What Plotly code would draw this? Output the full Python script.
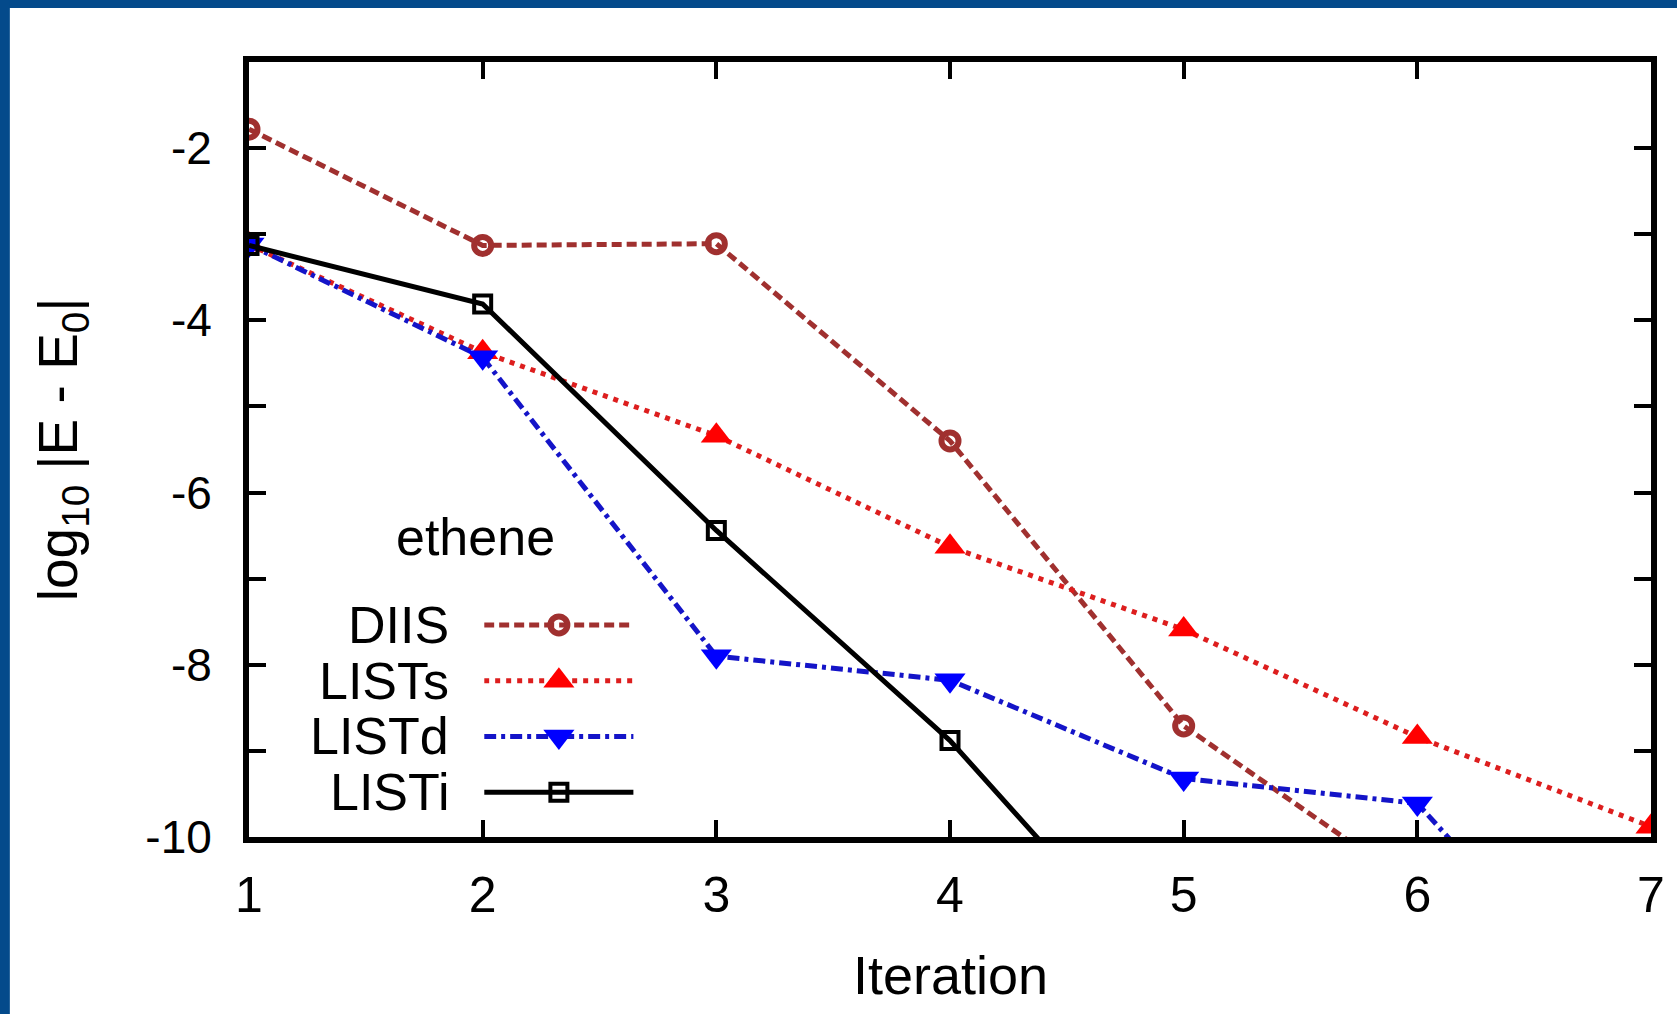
import plotly.graph_objects as go

# ---- data ----
iterations = [1, 2, 3, 4, 5, 6, 7]
diis = [-1.78, -3.13, -3.11, -5.40, -8.71, -10.6]
lists = [-3.12, -4.37, -5.34, -6.63, -7.59, -8.84, -9.88]
listd = [-3.12, -4.43, -7.90, -8.18, -9.32, -9.61, -12.6]
listi = [-3.13, -3.81, -6.44, -8.88, -11.9]

series_names = ["DIIS", "LISTs", "LISTd", "LISTi"]
legend_title = "ethene"
x_ticks = [1, 2, 3, 4, 5, 6, 7]
y_ticks = [-10, -8, -6, -4, -2]

# ---- styles ----
FONT = "Liberation Sans, Arial, Helvetica, sans-serif"
styles = {
    "DIIS": dict(line=dict(color="#A0302F", width=5, dash="10px,5px"),
                 marker=dict(symbol="circle-open", size=17, color="#A0302F",
                             line=dict(color="#A0302F", width=6))),
    "LISTs": dict(line=dict(color="#DD1E1E", width=5, dash="5px,6px"),
                  marker=dict(symbol="triangle-up", size=27, color="#FF0000",
                              line=dict(width=0))),
    "LISTd": dict(line=dict(color="#1414C8", width=5, dash="12px,5px,4px,5px"),
                  marker=dict(symbol="triangle-down", size=27, color="#0000FF",
                              line=dict(width=0))),
    "LISTi": dict(line=dict(color="black", width=5),
                  marker=dict(symbol="square-open", size=17, color="black",
                              line=dict(color="black", width=4))),
}
values = {"DIIS": diis, "LISTs": lists, "LISTd": listd, "LISTi": listi}

fig = go.Figure()
for name in series_names:
    ys = values[name]
    fig.add_trace(go.Scatter(
        x=iterations[:len(ys)], y=ys, mode="lines+markers", name=name,
        showlegend=False, line=styles[name]["line"], marker=styles[name]["marker"],
        xaxis="x", yaxis="y"))

# ---- custom gnuplot-style key (label left of sample) on an overlay axis ----
for i, name in enumerate(series_names):
    fig.add_trace(go.Scatter(
        x=[0, 1], y=[i, i], mode="lines", showlegend=False,
        line=styles[name]["line"], xaxis="x2", yaxis="y2", hoverinfo="skip"))
    fig.add_trace(go.Scatter(
        x=[0.5], y=[i], mode="markers", showlegend=False,
        marker=styles[name]["marker"], xaxis="x2", yaxis="y2", hoverinfo="skip"))
    fig.add_annotation(x=0, y=i, xref="x2", yref="y2", text=name, showarrow=False,
                       xanchor="right", yanchor="middle", xshift=-33,
                       font=dict(family=FONT, size=52, color="black"))

fig.add_annotation(x=0.1613, y=0.387, xref="paper", yref="paper", text=legend_title,
                   showarrow=False, xanchor="center", yanchor="middle",
                   font=dict(family=FONT, size=52, color="black"))

# axis titles
fig.add_annotation(x=0.5, y=-0.178, xref="paper", yref="paper", text="Iteration",
                   showarrow=False, xanchor="center", yanchor="middle",
                   font=dict(family=FONT, size=54, color="black"))
fig.add_annotation(x=-0.1336, y=0.5, xref="paper", yref="paper",
                   text="log<sub>10</sub> |E - E<sub>0</sub>|", textangle=-90,
                   showarrow=False, xanchor="center", yanchor="middle",
                   font=dict(family=FONT, size=55, color="black"))

# blue slide border strips (top and left)
BLUE = "#044A8B"
fig.add_shape(type="rect", xref="paper", yref="paper", x0=-0.2, x1=1.1,
              y0=(837 - 8) / 775, y1=1.2, fillcolor=BLUE, line_width=0, layer="below")
fig.add_shape(type="rect", xref="paper", yref="paper", x0=-0.2, x1=(9 - 249) / 1407,
              y0=-0.3, y1=1.2, fillcolor=BLUE, line_width=0, layer="below")

axis_common = dict(showline=True, linecolor="black", linewidth=6, mirror="allticks",
                   ticks="inside", tickcolor="black", tickwidth=4, ticklen=17,
                   showgrid=False, zeroline=False)

fig.update_layout(
    width=1677, height=1014,
    margin=dict(l=249, r=21, t=62, b=177, pad=0),
    paper_bgcolor="white", plot_bgcolor="white",
    xaxis=dict(range=[1, 7], tickvals=x_ticks, ticktext=[str(v) for v in x_ticks],
               ticklabelstandoff=9, tickfont=dict(family=FONT, size=50, color="black"),
               **axis_common),
    yaxis=dict(range=[-10, -1], tickvals=y_ticks, ticktext=[str(v) for v in y_ticks],
               ticklabelstandoff=22, tickfont=dict(family=FONT, size=46, color="black"),
               minor=dict(tickvals=[-9, -7, -5, -3], ticks="inside", ticklen=17,
                          tickwidth=4, tickcolor="black", showgrid=False),
               **axis_common),
    xaxis2=dict(domain=[(485 - 249) / 1407, (635 - 249) / 1407], range=[0, 1],
                visible=False, anchor="y2", fixedrange=True),
    yaxis2=dict(domain=[(837 - 820) / 775, (837 - 597) / 775], range=[3.5, -0.5],
                visible=False, anchor="x2", fixedrange=True),
    showlegend=False,
)

fig.write_html("out.html")
